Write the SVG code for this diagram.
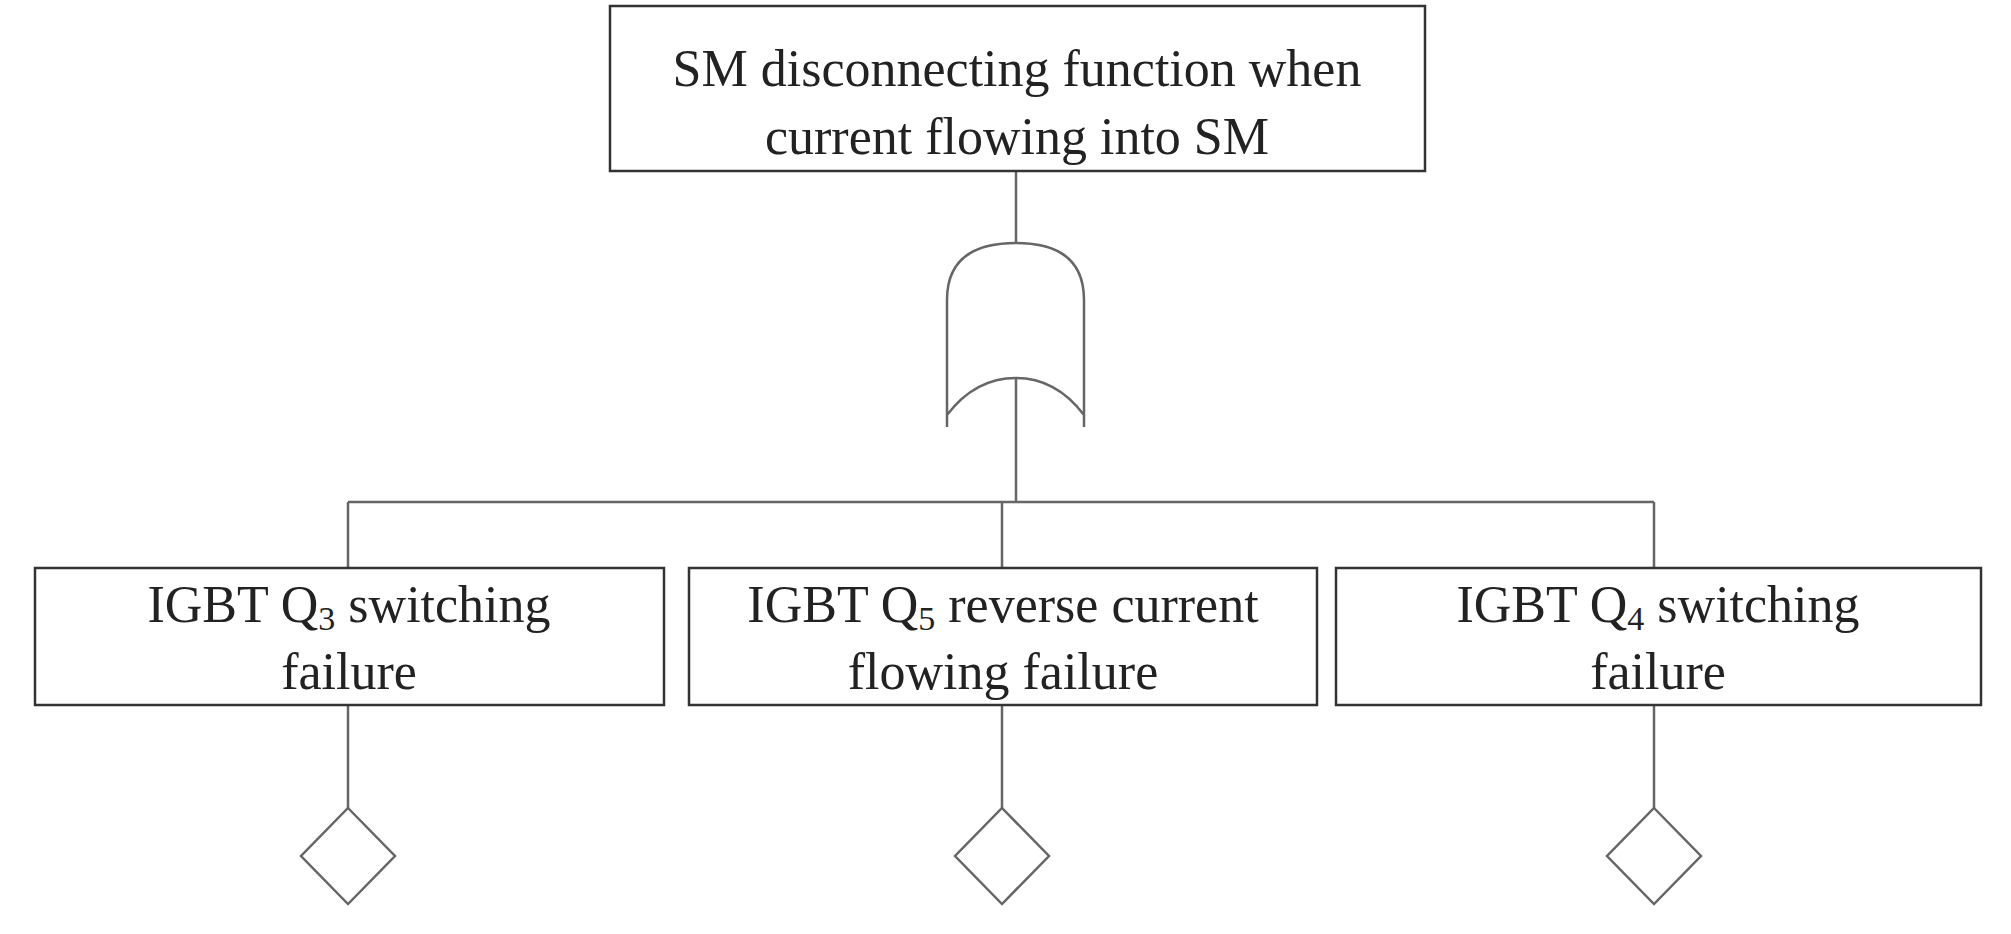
<svg xmlns="http://www.w3.org/2000/svg" width="2011" height="934" viewBox="0 0 2011 934">
<style>
.b{fill:#fff;stroke:#333;stroke-width:2.5}
.l{fill:none;stroke:#666;stroke-width:2.5}
text{font-family:"Liberation Serif",serif;font-size:52px;fill:#222;text-anchor:middle}
.s{font-size:34px}
</style>
<rect width="2011" height="934" fill="#fff"/>
<g id="connectors">
<path class="l" d="M1016 171V243M1016 378V502M348 502H1654M348 502V568M1002 502V568M1654 502V568M348 705V808M1002 705V808M1654 705V808"/>
</g>
<g id="top"><rect class="b" x="610" y="6" width="815" height="165"/>
<text x="1017" y="86">SM disconnecting function when</text>
<text x="1017" y="154">current flowing into SM</text></g>
<g id="gate"><path class="l" d="M947 427V300Q947 243 1016 243Q1084 243 1084 300V427M947 415Q975 378 1016 378Q1056 378 1084 415"/></g>
<g id="e1"><rect class="b" x="35" y="568" width="629" height="137"/>
<text x="349" y="622">IGBT Q<tspan class="s" dy="8">3</tspan><tspan dy="-8"> switching</tspan></text>
<text x="349" y="689">failure</text></g>
<g id="e2"><rect class="b" x="689" y="568" width="628" height="137"/>
<text x="1003" y="622">IGBT Q<tspan class="s" dy="8">5</tspan><tspan dy="-8"> reverse current</tspan></text>
<text x="1003" y="689">flowing failure</text></g>
<g id="e3"><rect class="b" x="1336" y="568" width="645" height="137"/>
<text x="1658" y="622">IGBT Q<tspan class="s" dy="8">4</tspan><tspan dy="-8"> switching</tspan></text>
<text x="1658" y="689">failure</text></g>
<g id="d1"><path class="l" d="M348 808L395 856L348 904L301 856Z"/></g>
<g id="d2"><path class="l" d="M1002 808L1049 856L1002 904L955 856Z"/></g>
<g id="d3"><path class="l" d="M1654 808L1701 856L1654 904L1607 856Z"/></g>
</svg>
